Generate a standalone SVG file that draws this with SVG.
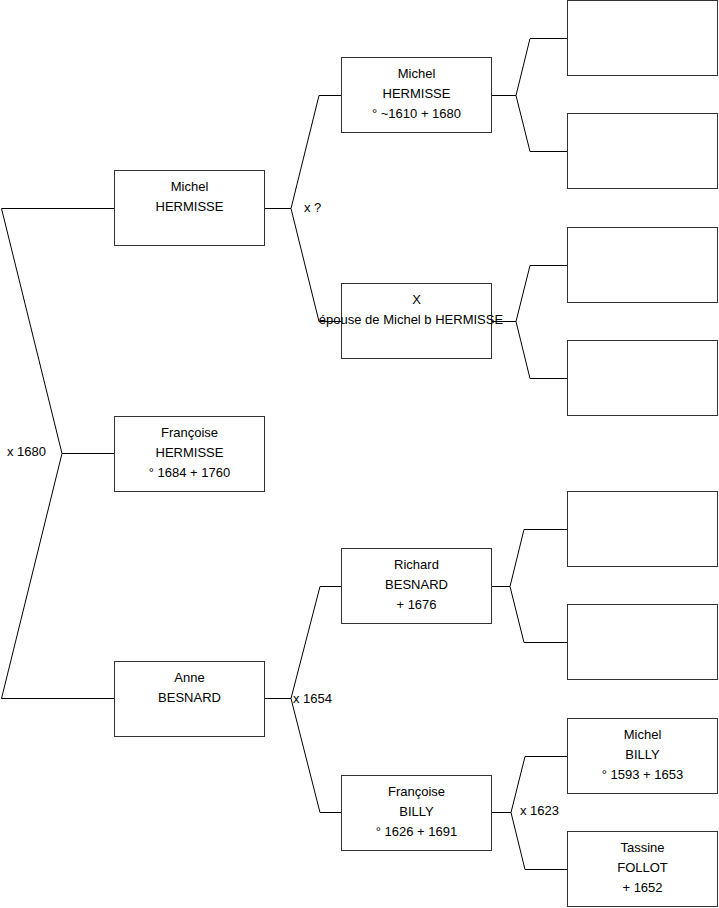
<svg xmlns="http://www.w3.org/2000/svg" width="719" height="908" viewBox="0 0 719 908">
<style>
.box{fill:#fff;stroke:#333;stroke-width:1}
.t{font-family:"Liberation Sans",Arial,sans-serif;font-size:13px;fill:#000;text-anchor:middle}
.l{font-family:"Liberation Sans",Arial,sans-serif;font-size:13px;fill:#000}
.c{fill:none;stroke:#000;stroke-width:1}
</style>
<rect width="719" height="908" fill="#fff"/>
<g id="connectors">
<path class="c" d="M114,208.5 H1.5 L62,453.5 L1.5,698.5 H114 M62,453.5 H114"/>
<path class="c" d="M265,208.5 H291 M341,95.5 H319 L291,208.5 L319,321.5 H341"/>
<path class="c" d="M491,95.5 H516 M567,38.5 H530 L516,95.5 L530,151.5 H567"/>
<path class="c" d="M491,321.5 H516 M567,265.5 H530 L516,321.5 L530,378.5 H567"/>
<path class="c" d="M265,698.5 H291 M341,586.5 H320 L291,698.5 L320,812.5 H341"/>
<path class="c" d="M491,586.5 H510 M567,529.5 H524 L510,586.5 L524,642.5 H567"/>
<path class="c" d="M491,812.5 H511 M567,756.5 H525 L511,812.5 L525,869.5 H567"/>
<text class="l" x="7" y="456">x 1680</text>
<text class="l" x="304" y="212">x ?</text>
<text class="l" x="293" y="703">x 1654</text>
<text class="l" x="520" y="815">x 1623</text>
</g>
<g id="n-michel-hermisse-1"><rect class="box" x="114.5" y="170.5" width="150" height="75"/><text class="t" x="189.5" y="191">Michel</text><text class="t" x="189.5" y="211">HERMISSE</text></g>
<g id="n-francoise-hermisse"><rect class="box" x="114.5" y="416.5" width="150" height="75"/><text class="t" x="189.5" y="437">Françoise</text><text class="t" x="189.5" y="457">HERMISSE</text><text class="t" x="189.5" y="477">° 1684 + 1760</text></g>
<g id="n-anne-besnard"><rect class="box" x="114.5" y="661.5" width="150" height="75"/><text class="t" x="189.5" y="682">Anne</text><text class="t" x="189.5" y="702">BESNARD</text></g>
<g id="n-michel-hermisse-2"><rect class="box" x="341.5" y="57.5" width="150" height="75"/><text class="t" x="416.5" y="78">Michel</text><text class="t" x="416.5" y="98">HERMISSE</text><text class="t" x="416.5" y="118">° ~1610 + 1680</text></g>
<g id="n-x"><rect class="box" x="341.5" y="283.5" width="150" height="75"/><text class="t" x="416.5" y="304">X</text><text class="t" x="411" y="324">épouse de Michel b HERMISSE</text></g>
<g id="n-richard-besnard"><rect class="box" x="341.5" y="548.5" width="150" height="75"/><text class="t" x="416.5" y="569">Richard</text><text class="t" x="416.5" y="589">BESNARD</text><text class="t" x="416.5" y="609">+ 1676</text></g>
<g id="n-francoise-billy"><rect class="box" x="341.5" y="775.5" width="150" height="75"/><text class="t" x="416.5" y="796">Françoise</text><text class="t" x="416.5" y="816">BILLY</text><text class="t" x="416.5" y="836">° 1626 + 1691</text></g>
<g id="n-e1"><rect class="box" x="567.5" y="0.5" width="150" height="75"/></g>
<g id="n-e2"><rect class="box" x="567.5" y="113.5" width="150" height="75"/></g>
<g id="n-e3"><rect class="box" x="567.5" y="227.5" width="150" height="75"/></g>
<g id="n-e4"><rect class="box" x="567.5" y="340.5" width="150" height="75"/></g>
<g id="n-e5"><rect class="box" x="567.5" y="491.5" width="150" height="75"/></g>
<g id="n-e6"><rect class="box" x="567.5" y="604.5" width="150" height="75"/></g>
<g id="n-michel-billy"><rect class="box" x="567.5" y="718.5" width="150" height="75"/><text class="t" x="642.5" y="739">Michel</text><text class="t" x="642.5" y="759">BILLY</text><text class="t" x="642.5" y="779">° 1593 + 1653</text></g>
<g id="n-tassine-follot"><rect class="box" x="567.5" y="831.5" width="150" height="75"/><text class="t" x="642.5" y="852">Tassine</text><text class="t" x="642.5" y="872">FOLLOT</text><text class="t" x="642.5" y="892">+ 1652</text></g>
</svg>
